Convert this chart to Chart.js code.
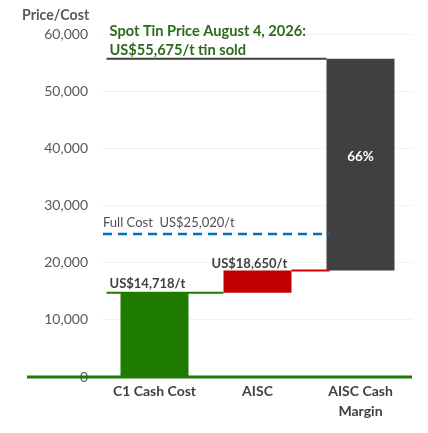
<!DOCTYPE html>
<html>
<head>
<meta charset="utf-8">
<script src="https://cdn.jsdelivr.net/npm/chart.js@4.4.1/dist/chart.umd.min.js"></script>
<style>
  html, body { margin: 0; padding: 0; background: #ffffff; }
  #wrap { width: 428px; height: 433px; position: relative; }
</style>
</head>
<body>
<div id="wrap"><canvas id="myChart"></canvas></div>
<script>
// data
const categories = ["C1 Cash Cost", "AISC", ["AISC Cash", "Margin"]];
const barStarts = [0, 14718, 18650];
const barEnds = [14718, 18650, 55675];
const barColors = ["#1f7a00", "#c00000", "#404040"];
const valueLabels = ["US$14,718/t", "US$18,650/t", ""];
const spotPrice = 55675;
const fullCost = 25020;
const fullCostLabel = "Full Cost  US$25,020/t";
const marginLabel = "66%";
const titleLines = ["Spot Tin Price August 4, 2026:", "US$55,675/t tin sold"];
const yTicks = [0, 10000, 20000, 30000, 40000, 50000, 60000];

const FONT = "Lato, 'Open Sans', sans-serif";

const bars = categories.map(function (c, i) {
  return [barStarts[i], barEnds[i]];
});

const waterfallExtras = {
  id: "waterfallExtras",
  afterDatasetsDraw(chart) {
    const ctx = chart.ctx;
    const y = chart.scales.y;
    const meta = chart.getDatasetMeta(0);
    const left = function (i) { return meta.data[i].x - meta.data[i].width / 2; };
    const right = function (i) { return meta.data[i].x + meta.data[i].width / 2; };
    const area = chart.chartArea;

    ctx.save();
    // baseline
    ctx.strokeStyle = "#1f7a00";
    ctx.lineWidth = 3;
    ctx.beginPath();
    ctx.moveTo(27, y.getPixelForValue(0));
    ctx.lineTo(area.right, y.getPixelForValue(0));
    ctx.stroke();

    // connectors
    ctx.lineWidth = 2;
    ctx.strokeStyle = "#1f7a00";
    ctx.beginPath();
    ctx.moveTo(left(0) - 14, y.getPixelForValue(barEnds[0]));
    ctx.lineTo(left(1), y.getPixelForValue(barEnds[0]));
    ctx.stroke();

    ctx.strokeStyle = "#d00000";
    ctx.beginPath();
    ctx.moveTo(right(1), y.getPixelForValue(barEnds[1]));
    ctx.lineTo(left(2) + 3, y.getPixelForValue(barEnds[1]));
    ctx.stroke();

    ctx.strokeStyle = "#404040";
    ctx.beginPath();
    ctx.moveTo(left(0) - 14, y.getPixelForValue(spotPrice));
    ctx.lineTo(left(2), y.getPixelForValue(spotPrice));
    ctx.stroke();

    // full cost dashed line
    ctx.strokeStyle = "#0070c0";
    ctx.lineWidth = 2.5;
    ctx.setLineDash([9, 6]);
    ctx.beginPath();
    ctx.moveTo(area.left, y.getPixelForValue(fullCost));
    ctx.lineTo(left(2) + 3, y.getPixelForValue(fullCost));
    ctx.stroke();
    ctx.setLineDash([]);

    // texts
    ctx.textBaseline = "middle";
    ctx.textAlign = "left";
    ctx.fillStyle = "#404040";
    ctx.font = "bold 13px " + FONT;
    ctx.fillText(valueLabels[0], left(0) - 11, y.getPixelForValue(barEnds[0]) - 9);
    ctx.fillText(valueLabels[1], left(1) - 12, y.getPixelForValue(barEnds[1]) - 7);

    ctx.font = "13px " + FONT;
    ctx.fillStyle = "#505050";
    ctx.fillText(fullCostLabel, area.left, y.getPixelForValue(fullCost) - 11);

    ctx.fillStyle = "#ffffff";
    ctx.font = "bold 13.5px " + FONT;
    ctx.textAlign = "center";
    ctx.fillText(marginLabel, meta.data[2].x, y.getPixelForValue((barStarts[2] + barEnds[2]) / 2) - 8);

    ctx.textAlign = "left";
    ctx.fillStyle = "#2b6a1c";
    ctx.font = "bold 14.6px " + FONT;
    ctx.fillText(titleLines[0], left(0) - 11, 31);
    ctx.fillText(titleLines[1], left(0) - 11, 50);

    ctx.fillStyle = "#595959";
    ctx.font = "bold 14.2px " + FONT;
    ctx.fillText("Price/Cost", 22, 15);
    ctx.restore();
  },
};

const config = {
  type: "bar",
  data: {
    labels: categories,
    datasets: [
      {
        data: bars,
        backgroundColor: barColors,
        borderWidth: 0,
        borderSkipped: false,
        barPercentage: 0.66,
        categoryPercentage: 1,
      },
    ],
  },
  options: {
    responsive: true,
    maintainAspectRatio: false,
    animation: false,
    layout: { padding: { left: 23, right: 16, top: 34, bottom: 12 } },
    plugins: {
      legend: { display: false },
      tooltip: { enabled: false },
    },
    scales: {
      x: {
        afterFit(axis) {
          axis.height = 44;
        },
        grid: { display: false, drawTicks: false },
        border: { display: false },
        ticks: {
          color: "#404040",
          font: { family: FONT, size: 14, weight: "bold", lineHeight: 1.45 },
          padding: 4,
          maxRotation: 0,
        },
      },
      y: {
        min: 0,
        max: 60000,
        afterFit(axis) {
          axis.width = 80;
        },
        afterBuildTicks(axis) {
          axis.ticks = yTicks.map(function (v) { return { value: v }; });
        },
        grid: { color: "#f2f2f2", drawTicks: false },
        border: { display: false },
        ticks: {
          color: "#595959",
          font: { family: FONT, size: 14 },
          padding: 15,
          callback: function (v) { return v.toLocaleString("en-US"); },
        },
      },
    },
  },
  plugins: [waterfallExtras],
};

const myChart = new Chart(document.getElementById("myChart"), config);
</script>
</body>
</html>
